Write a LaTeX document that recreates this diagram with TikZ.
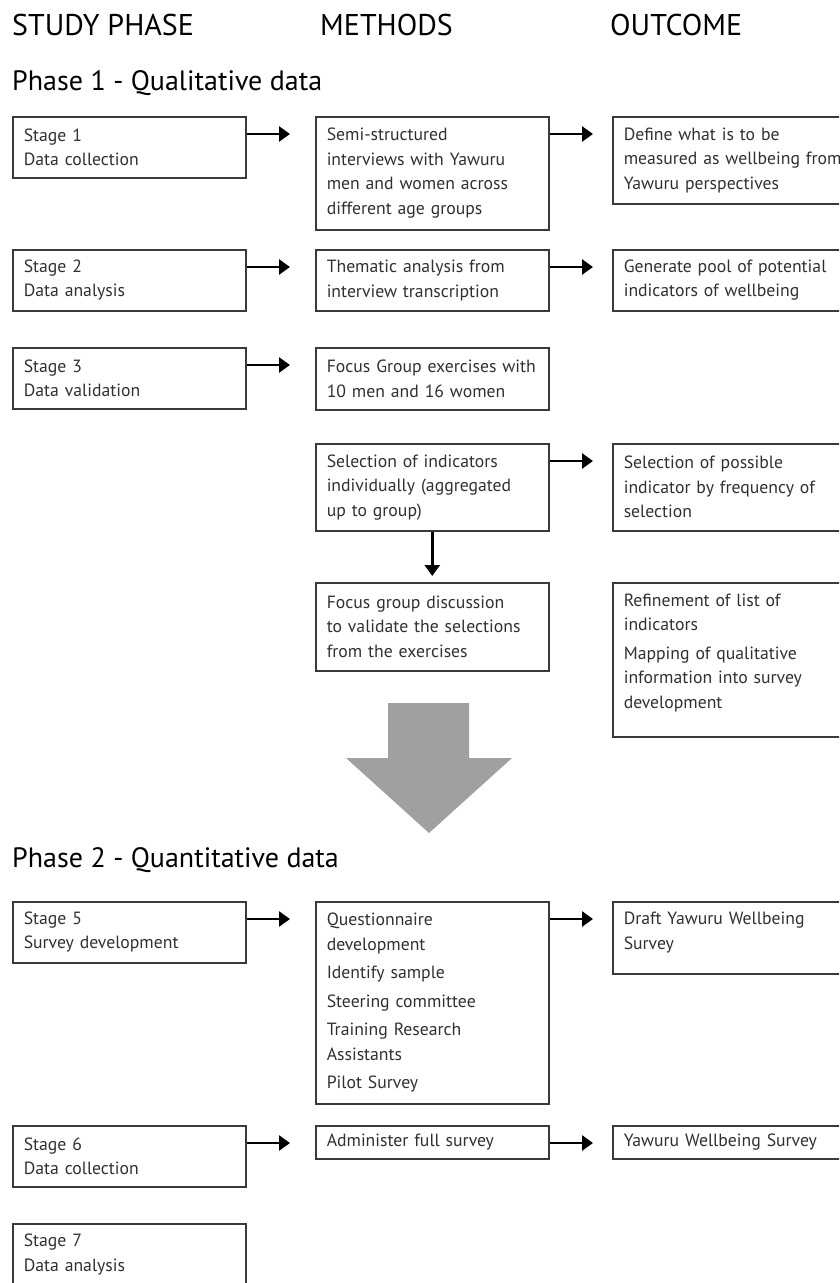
\documentclass[tikz,border=0pt]{standalone}
\usepackage{fontspec}
\setmainfont{PT Sans}
\usetikzlibrary{arrows.meta}
\definecolor{boxgray}{HTML}{3A3A3A}
\definecolor{txtgray}{HTML}{303030}
\definecolor{arrowgray}{HTML}{A0A0A0}

\begin{document}
\begin{tikzpicture}[x=1pt,y=-1pt,
        box/.style={draw=boxgray, line width=1.5pt, anchor=north west, text width=211pt, inner xsep=11pt,
            align=left, text=txtgray, font=\fontsize{17.7}{24.5}\selectfont},
        outbox/.style={box, text width=240pt},
        arr/.style={line width=2.6pt, -{Triangle[length=11pt,width=15pt]}},
        heading/.style={anchor=base west, inner sep=0pt, text=black}]
    \useasboundingbox (0,0) rectangle (839,1283);
    \clip (0,0) rectangle (839,1283);

    % column headings and phases
    \node[heading, font=\fontsize{30}{36}\selectfont] (hstudy) at (12,35) {STUDY PHASE};
    \node[heading, font=\fontsize{30}{36}\selectfont] (hmeth) at (320,35) {METHODS};
    \node[heading, font=\fontsize{30}{36}\selectfont] (hout) at (610,35) {OUTCOME};
    \node[heading, font=\fontsize{28}{32}\selectfont] (phase1) at (12,90) {Phase 1 - Qualitative data};
    \node[heading, font=\fontsize{28}{32}\selectfont] (phase2) at (12,867) {Phase 2 - Quantitative data};

    % study phase column
    \foreach \n/\y/\t in {1/116/Data collection, 2/249/Data analysis, 3/347/Data validation,
                          5/901/Survey development, 6/1125/Data collection, 7/1223/Data analysis}
        \node[box, minimum height=61pt] (s\n) at (12,\y) {Stage \n\\\t};

    % methods column
    \node[box, minimum height=113pt] (m1) at (315,116) {Semi-structured\\interviews with Yawuru\\men and women across\\different age groups};
    \node[box, minimum height=61pt] (m2) at (315,249) {Thematic analysis from\\interview transcription};
    \node[box, minimum height=62pt] (m3) at (315,347) {Focus Group exercises with\\10 men and 16 women};
    \node[box, minimum height=87pt] (m4) at (315,443) {Selection of indicators\\individually (aggregated\\up to group)};
    \node[box, minimum height=88pt] (m5) at (315,582) {Focus group discussion\\to validate the selections\\from the exercises};
    \node[box, minimum height=202pt] (m6) at (315,901) {Questionnaire\\development\\[4pt]Identify sample\\[4pt]Steering committee\\[4pt]Training Research\\Assistants\\[4pt]Pilot Survey};
    \node[box, minimum height=33pt] (m7) at (315,1125) {Administer full survey};

    % outcome column
    \node[outbox, minimum height=87pt] (o1) at (612,116) {Define what is to be\\measured as wellbeing from\\Yawuru perspectives};
    \node[outbox, minimum height=61pt] (o2) at (612,249) {Generate pool of potential\\indicators of wellbeing};
    \node[outbox, minimum height=87pt] (o4) at (612,443) {Selection of possible\\indicator by frequency of\\selection};
    \node[outbox, minimum height=154pt] (o5) at (612,582) {Refinement of list of\\indicators\\[4pt]Mapping of qualitative\\information into survey\\development\rule[-18pt]{0pt}{18pt}};
    \node[outbox, minimum height=72pt] (o6) at (612,901) {Draft Yawuru Wellbeing\\Survey\rule[-14pt]{0pt}{14pt}};
    \node[outbox, minimum height=33pt] (o7) at (612,1125) {Yawuru Wellbeing Survey};

    % arrows
    \foreach \a/\b in {s1/m1, s2/m2, s3/m3, s5/m6, s6/m7}
        \draw[arr] ([yshift=-18pt]\a.north east) -- ([yshift=-18pt,xshift=-25pt]\b.north west);
    \foreach \a/\b in {m1/o1, m2/o2, m4/o4, m6/o6, m7/o7}
        \draw[arr] ([yshift=-18pt]\a.north east) -- ([yshift=-18pt,xshift=-19pt]\b.north west);
    \draw[arr] (m4.south) -- ([yshift=6pt]m5.north);

    % big arrow between phases
    \fill[arrowgray] (388,703) -- (469,703) -- (469,758) -- (512,758) -- (429,833) -- (346,758) -- (388,758) -- cycle;
\end{tikzpicture}
\end{document}
